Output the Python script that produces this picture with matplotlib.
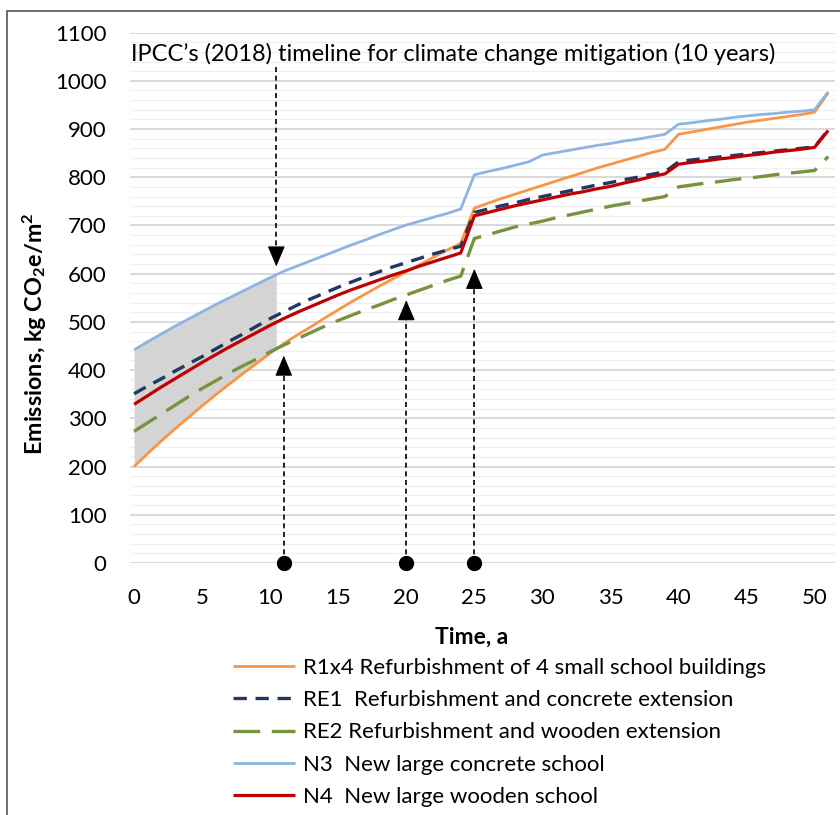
import matplotlib
matplotlib.use('Agg')
import matplotlib.pyplot as plt
import numpy as np
from matplotlib.patches import Rectangle

plt.rcParams['font.family'] = ['Lato', 'DejaVu Sans']
plt.rcParams['mathtext.fontset'] = 'custom'
plt.rcParams['mathtext.rm'] = 'Lato'
plt.rcParams['mathtext.bf'] = 'Lato:bold'
plt.rcParams['mathtext.it'] = 'Lato:italic'

# ---------------- data ----------------
years = list(range(52))
r1x4 = [200, 227, 253, 278, 302, 326, 349, 371, 393, 414, 435, 455, 473, 490, 508, 525,
        542, 558, 574, 589, 604, 619, 634, 649, 663,
        736, 746, 756, 765, 774, 783, 792, 801, 810, 819, 827, 835, 843, 851, 858,
        889, 894, 899, 904, 909, 914, 918, 922, 926, 930, 935, 975]
re1 = [351, 367, 382, 398, 413, 428, 444, 460, 475, 491, 507, 521, 535, 548, 560, 572,
       583, 594, 604, 614, 623, 632, 641, 649, 657,
       727, 734, 741, 747, 754, 760, 766, 772, 778, 784, 789, 795, 800, 806, 811,
       832, 836, 839, 842, 845, 848, 851, 854, 857, 860, 863, 898]
re2 = [273, 291, 309, 327, 345, 362, 378, 394, 409, 423, 438, 452, 465, 478, 491, 503,
       514, 525, 535, 546, 556, 566, 576, 586, 595,
       673, 681, 689, 697, 703, 709, 716, 722, 728, 734, 740, 745, 750, 755, 760,
       780, 784, 788, 791, 795, 798, 801, 805, 808, 811, 814, 843]
n3 = [442, 459, 475, 491, 506, 521, 536, 550, 564, 578, 592, 605, 616, 627, 638, 649,
      660, 670, 681, 691, 701, 709, 717, 725, 734,
      805, 812, 818, 825, 832, 846, 851, 856, 861, 866, 870, 875, 879, 884, 889,
      910, 913, 917, 920, 924, 927, 930, 932, 935, 937, 940, 977]
n4 = [329, 347, 365, 382, 399, 416, 432, 448, 463, 478, 493, 507, 520, 532, 544, 556,
      567, 577, 587, 597, 606, 616, 625, 634, 643,
      720, 727, 734, 741, 747, 753, 759, 765, 770, 776, 781, 788, 794, 801, 807,
      827, 831, 834, 838, 841, 845, 848, 852, 855, 858, 862, 897]

series_labels = ["R1x4 Refurbishment of 4 small school buildings",
                 "RE1  Refurbishment and concrete extension",
                 "RE2 Refurbishment and wooden extension",
                 "N3  New large concrete school",
                 "N4  New large wooden school"]
x_ticks = list(range(0, 51, 5))
y_ticks = list(range(0, 1101, 100))
ipcc_text = "IPCC\u2019s (2018) timeline for climate change mitigation (10 years)"
ipcc_year = 10.45
ipcc_arrow = (1028, 615)          # start, tip (kg CO2e/m2)
marker_years = [11, 20, 25]
marker_tips = [430, 545, 610]

# ---------------- figure ----------------
W, H = 840, 815
fig = plt.figure(figsize=(W / 100, H / 100), dpi=100)
x0px, x1px = 130, 835
y0px, y1px = 563, 32.6
ax = fig.add_axes([x0px / W, 1 - y0px / H, (x1px - x0px) / W, (y0px - y1px) / H])
ax.set_xlim(-0.3, 51.5)
ax.set_ylim(0, 1100)

for s in ax.spines.values():
    s.set_visible(False)
ax.set_yticks(y_ticks)
ax.set_yticks(np.arange(0, 1101, 20), minor=True)
ax.set_xticks(x_ticks)
ax.tick_params(which='both', length=0)
ax.tick_params(axis='y', labelsize=16, pad=17, colors='black')
ax.tick_params(axis='x', labelsize=16, pad=18, colors='black')
ax.grid(which='major', axis='y', color='#d9d9d9', lw=1.4, zorder=0)
ax.grid(which='minor', axis='y', color='#f0f0f0', lw=1.0, zorder=0)
ax.set_axisbelow(True)

# shaded IPCC window
xs = np.linspace(0, ipcc_year, 200)
ax.fill_between(xs, np.interp(xs, years, r1x4), np.interp(xs, years, n3),
                color='#d4d4d4', lw=0, zorder=1)

colors = ['#f79646', '#1f3864', '#77933c', '#8db4e2', '#c00000']
styles = ['-', (0, (4.0, 2.6)), (0, (8.0, 3.5)), '-', '-']
widths = [2.0, 2.4, 2.4, 2.0, 2.3]
data = [r1x4, re1, re2, n3, n4]
order = [3, 0, 2, 1, 4]
handles = [None] * 5
for i in order:
    ln, = ax.plot(years, data[i], color=colors[i], ls=styles[i], lw=widths[i],
                  zorder=3 + i * 0.1, solid_capstyle='butt', dash_capstyle='butt')
    handles[i] = ln

# arrows
def arrow(x, y_from, y_to):
    direction = 1 if y_to > y_from else -1
    head = 30 * direction
    ax.plot([x, x], [y_from, y_to - head], color='black', lw=1.2,
            ls=(0, (3, 2.2)), zorder=6, clip_on=False)
    ax.annotate('', xy=(x, y_to), xytext=(x, y_to - head),
                arrowprops=dict(arrowstyle='-|>,head_length=1.3,head_width=0.55',
                                color='black', lw=0.8, mutation_scale=10,
                                shrinkA=0, shrinkB=0), zorder=7)

arrow(ipcc_year, ipcc_arrow[0], ipcc_arrow[1])
for xm, tip in zip(marker_years, marker_tips):
    arrow(xm, 0, tip)
ax.plot(marker_years, [0] * len(marker_years), 'o', color='black', ms=10,
        zorder=8, clip_on=False)

ax.text(-0.2, 1055, ipcc_text, fontsize=17, va='center', ha='left', color='black')

fig.text(35 / W, 1 - 334 / H, r'Emissions, kg CO$_\mathbf{2}$e/m$^\mathbf{2}$',
         rotation=90, ha='center', va='center', fontsize=16.8, fontweight='bold')
fig.text(472 / W, 1 - 637 / H, 'Time, a', ha='center', va='center',
         fontsize=16.5, fontweight='bold')

fig.legend(handles, series_labels, loc='upper left',
           bbox_to_anchor=(233 / W, 1 - 658 / H), frameon=False, fontsize=16,
           borderpad=0, borderaxespad=0, handlelength=2.8, handletextpad=0.36,
           labelspacing=0.55)

fig.add_artist(Rectangle((7 / W, -0.05), 1.2, 1 - 11 / H + 0.05, fill=False,
                         ec='#555555', lw=1.2, transform=fig.transFigure))

fig.savefig('out.png', dpi=100)
